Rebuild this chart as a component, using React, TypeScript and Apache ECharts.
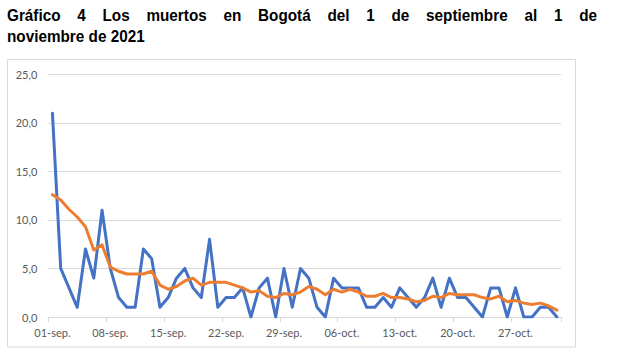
import React, { useEffect, useRef } from "react";
import * as echarts from "echarts";

const categories: string[] = [
  "01-sep.", "02-sep.", "03-sep.", "04-sep.", "05-sep.", "06-sep.", "07-sep.", "08-sep.", "09-sep.", "10-sep.",
  "11-sep.", "12-sep.", "13-sep.", "14-sep.", "15-sep.", "16-sep.", "17-sep.", "18-sep.", "19-sep.", "20-sep.",
  "21-sep.", "22-sep.", "23-sep.", "24-sep.", "25-sep.", "26-sep.", "27-sep.", "28-sep.", "29-sep.", "30-sep.",
  "01-oct.", "02-oct.", "03-oct.", "04-oct.", "05-oct.", "06-oct.", "07-oct.", "08-oct.", "09-oct.", "10-oct.",
  "11-oct.", "12-oct.", "13-oct.", "14-oct.", "15-oct.", "16-oct.", "17-oct.", "18-oct.", "19-oct.", "20-oct.",
  "21-oct.", "22-oct.", "23-oct.", "24-oct.", "25-oct.", "26-oct.", "27-oct.", "28-oct.", "29-oct.", "30-oct.",
  "31-oct.", "01-nov.",
];

const muertos: number[] = [
  21, 5, 3, 1, 7, 4, 11, 5, 2, 1,
  1, 7, 6, 1, 2, 4, 5, 3, 2, 8,
  1, 2, 2, 3, 0, 3, 4, 0, 5, 1,
  5, 4, 1, 0, 4, 3, 3, 3, 1, 1,
  2, 1, 3, 2, 1, 2, 4, 1, 4, 2,
  2, 1, 0, 3, 3, 0, 3, 0, 0, 1,
  1, 0,
];

const promedio: number[] = [
  12.6, 12.06, 11.1, 10.3, 9.3, 6.9, 7.43, 5.14, 4.71, 4.43,
  4.43, 4.43, 4.71, 3.29, 2.86, 3.14, 3.71, 4.0, 3.29, 3.57,
  3.57, 3.57, 3.29, 3.0, 2.57, 2.71, 2.14, 2.0, 2.43, 2.29,
  2.57, 3.14, 2.86, 2.29, 2.86, 2.57, 2.86, 2.57, 2.14, 2.14,
  2.43, 2.0, 2.0, 1.86, 1.57, 1.71, 2.14, 2.0, 2.43, 2.29,
  2.29, 2.29, 2.0, 1.86, 2.14, 1.57, 1.71, 1.43, 1.29, 1.43,
  1.14, 0.71,
];

const titleLine1: string[] = ["Gráfico", "4", "Los", "muertos", "en", "Bogotá", "del", "1", "de", "septiembre", "al", "1", "de"];
const titleLine2 = "noviembre de 2021";

const TITLE_SIZE = 17;
const TITLE_SX = 0.9;

export default function App() {
  const ref = useRef<HTMLDivElement>(null);
  useEffect(() => {
    if (!ref.current) return;
    const chart = echarts.init(ref.current, undefined, { renderer: "svg" });

    const canvas = document.createElement("canvas");
    const ctx = canvas.getContext("2d")!;
    ctx.font = `bold ${TITLE_SIZE}px "Liberation Sans"`;
    const widths = titleLine1.map((w) => ctx.measureText(w).width * TITLE_SX);
    const x0 = 7;
    const x1 = 597;
    const total = widths.reduce((a, b) => a + b, 0);
    const gap = (x1 - x0 - total) / (titleLine1.length - 1);
    let cx = x0;
    const titleStyle = {
      fontSize: TITLE_SIZE,
      fontWeight: "bold",
      fontFamily: "Liberation Sans",
      fill: "#000000",
      align: "left",
      verticalAlign: "middle",
    };
    const wordEls: any[] = titleLine1.map((w, k) => {
      const el = {
        type: "text",
        x: cx,
        y: 14.5,
        scaleX: TITLE_SX,
        style: { ...titleStyle, text: w },
      };
      cx += widths[k] + gap;
      return el;
    });

    chart.setOption({
      animation: false,
      backgroundColor: "#ffffff",
      graphic: [
        {
          type: "rect",
          shape: { x: 7.5, y: 59.5, width: 568, height: 287.5 },
          style: { fill: "none", stroke: "#d9d9d9", lineWidth: 1 },
          z: -1,
        },
        ...wordEls,
        {
          type: "text",
          x: 7,
          y: 35.5,
          scaleX: TITLE_SX,
          style: { ...titleStyle, text: titleLine2 },
        },
      ],
      grid: { left: 48.3, right: 58, top: 74.3, bottom: 38, containLabel: false },
      xAxis: {
        type: "category",
        data: categories,
        boundaryGap: true,
        axisLine: { show: true, lineStyle: { color: "#d9d9d9", width: 1 } },
        axisTick: { show: true, interval: 6, length: 5, lineStyle: { color: "#d9d9d9" } },
        axisLabel: {
          interval: 6,
          color: "#595959",
          fontSize: 11,
          fontFamily: "Lato",
          margin: 10,
        },
        splitLine: { show: false },
      },
      yAxis: {
        type: "value",
        min: 0,
        max: 25,
        interval: 5,
        axisLine: { show: false },
        axisTick: { show: false },
        axisLabel: {
          color: "#595959",
          fontSize: 11,
          fontFamily: "Lato",
          margin: 11,
          formatter: (v: number) => v.toFixed(1).replace(".", ","),
        },
        splitLine: { show: true, lineStyle: { color: "#d9d9d9", width: 1 } },
      },
      series: [
        {
          name: "Muertos",
          type: "line",
          data: muertos,
          symbol: "none",
          lineStyle: { color: "#4472C4", width: 3, join: "round", cap: "round" },
          itemStyle: { color: "#4472C4" },
          z: 2,
        },
        {
          name: "Promedio móvil 7 días",
          type: "line",
          data: promedio,
          symbol: "none",
          lineStyle: { color: "#ED7D31", width: 3, join: "round", cap: "round" },
          itemStyle: { color: "#ED7D31" },
          z: 3,
        },
      ],
    });
    return () => chart.dispose();
  }, []);
  return (
    <div
      ref={ref}
      style={{ position: "absolute", left: 0, top: 0, width: 619, height: 355 }}
    />
  );
}
